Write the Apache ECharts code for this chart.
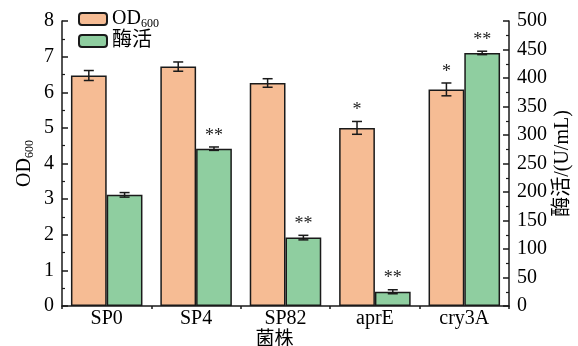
<!DOCTYPE html>
<html>
<head>
<meta charset="utf-8">
<script src="https://cdn.jsdelivr.net/npm/echarts@6/dist/echarts.min.js"></script>
<style>
  html, body { margin: 0; padding: 0; background: #fff; }
  #chart { width: 578px; height: 346px; }
</style>
</head>
<body>
<div id="chart"></div>
<script>
// Strains and measurements
const categories = ['SP0', 'SP4', 'SP82', 'aprE', 'cry3A'];
const odValues = [6.47, 6.72, 6.26, 5.00, 6.08];
const odErrors = [0.14, 0.13, 0.12, 0.18, 0.18];
const odMarks = ['', '', '', '*', '*'];
const activityValues = [195, 276, 120, 25, 444];
const activityErrors = [4, 3, 4, 3.5, 3];
const activityMarks = ['', '**', '**', '**', '**'];

const FONT = '"Liberation Serif", "Times New Roman", "Noto Sans CJK SC", serif';
const ORANGE = '#F6BC94';
const GREEN = '#8FCEA0';
const EDGE = '#1a1a1a';
const CATEGORY_GAP = 0.2;

const chart = echarts.init(document.getElementById('chart'), null, { renderer: 'canvas' });

// Error bars with significance stars, drawn over a bar of a two-bar group
function errorSeries(name, values, errors, marks, yAxisIndex, side) {
  return {
    type: 'custom',
    name: name,
    yAxisIndex: yAxisIndex,
    z: 5,
    data: values.map((v, i) => [i, v, errors[i]]),
    encode: { x: 0, y: 1 },
    renderItem: function (params, api) {
      const i = api.value(0);
      const v = api.value(1);
      const e = api.value(2);
      const band = api.size([1, 0])[0];
      const barW = band * (1 - CATEGORY_GAP) / 2;
      const x = api.coord([i, v])[0] + side * barW / 2;
      const top = api.coord([i, v + e])[1];
      const bot = api.coord([i, v - e])[1];
      const cap = 5;
      const style = { stroke: EDGE, lineWidth: 1.5 };
      const children = [
        { type: 'line', shape: { x1: x, y1: top, x2: x, y2: bot }, style: style },
        { type: 'line', shape: { x1: x - cap, y1: top, x2: x + cap, y2: top }, style: style },
        { type: 'line', shape: { x1: x - cap, y1: bot, x2: x + cap, y2: bot }, style: style }
      ];
      const mark = marks[params.dataIndex];
      if (mark) {
        children.push({
          type: 'text',
          style: {
            text: mark,
            x: x, y: top - 2,
            align: 'center', verticalAlign: 'bottom',
            font: '18px ' + FONT, fill: '#222'
          }
        });
      }
      return { type: 'group', children: children };
    }
  };
}

const yAxisBase = {
  type: 'value',
  axisLine: { show: true, lineStyle: { color: EDGE, width: 1.5 } },
  axisTick: { show: true, inside: true, length: 6, lineStyle: { color: EDGE, width: 1.5 } },
  minorTick: { show: true, splitNumber: 2, length: 3, lineStyle: { color: EDGE, width: 1.2 } },
  splitLine: { show: false },
  axisLabel: { color: '#000', fontFamily: FONT, fontSize: 20, margin: 8 },
  nameLocation: 'middle',
  nameRotate: 90,
  nameMoveOverlap: false,
  nameTextStyle: { color: '#000', fontFamily: FONT, fontSize: 20 }
};

chart.setOption({
  animation: false,
  backgroundColor: '#fff',
  textStyle: { fontFamily: FONT },
  grid: { left: 62, right: 69, top: 21, bottom: 40, containLabel: false, outerBoundsMode: 'none' },
  legend: {
    data: ['OD600', '酶活'],
    orient: 'vertical',
    left: 73,
    top: 4,
    itemWidth: 28,
    itemHeight: 12,
    itemGap: 1,
    formatter: function (n) { return n === 'OD600' ? 'OD{sub|600}' : n; },
    textStyle: {
      color: '#000', fontFamily: FONT, fontSize: 20,
      rich: { sub: { fontFamily: FONT, fontSize: 12, verticalAlign: 'bottom', padding: [10, 0, 0, 0] } }
    }
  },
  xAxis: {
    type: 'category',
    data: categories,
    name: '菌株',
    nameLocation: 'middle',
    nameGap: 25,
    nameMoveOverlap: false,
    nameTextStyle: { color: '#000', fontFamily: FONT, fontSize: 19, padding: [0, 22, 0, 0] },
    axisLine: { show: true, lineStyle: { color: EDGE, width: 1.5 } },
    axisTick: { show: true, length: 3, lineStyle: { color: EDGE, width: 1.5 } },
    axisLabel: { color: '#000', fontFamily: FONT, fontSize: 20, margin: 3 }
  },
  yAxis: [
    Object.assign({}, yAxisBase, {
      position: 'left',
      min: 0, max: 8, interval: 1,
      name: 'OD{sub|600}',
      nameGap: 26,
      nameTextStyle: {
        color: '#000', fontFamily: FONT, fontSize: 20,
        rich: { sub: { fontFamily: FONT, fontSize: 12, verticalAlign: 'bottom', padding: [10, 0, 0, 0] } }
      }
    }),
    Object.assign({}, yAxisBase, {
      position: 'right',
      min: 0, max: 500, interval: 50,
      name: '酶活/(U/mL)',
      nameGap: 44
    })
  ],
  series: [
    {
      name: 'OD600', type: 'bar', yAxisIndex: 0,
      data: odValues,
      barGap: '0%', barCategoryGap: (CATEGORY_GAP * 100) + '%',
      itemStyle: { color: ORANGE, borderColor: EDGE, borderWidth: 1.5 }
    },
    {
      name: '酶活', type: 'bar', yAxisIndex: 1,
      data: activityValues,
      barGap: '0%', barCategoryGap: (CATEGORY_GAP * 100) + '%',
      itemStyle: { color: GREEN, borderColor: EDGE, borderWidth: 1.5 }
    },
    errorSeries('odErr', odValues, odErrors, odMarks, 0, -1),
    errorSeries('actErr', activityValues, activityErrors, activityMarks, 1, 1)
  ]
});
</script>
</body>
</html>
